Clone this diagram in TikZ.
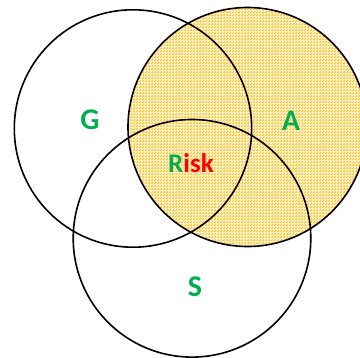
\documentclass[tikz,border=0pt]{standalone}
\usepackage{fontspec}
\setmainfont{Carlito}
\usetikzlibrary{patterns}
\definecolor{lblgreen}{HTML}{00B050}
\definecolor{lblred}{HTML}{FF0000}
\definecolor{hatchbase}{HTML}{FFC52E}
\tikzset{
  ring/.style={draw=black, line width=1.6pt},
  lbl/.style={font=\fontsize{30}{30}\selectfont\bfseries, text=lblgreen, inner sep=0pt}
}
\begin{document}
\begin{tikzpicture}[x=1pt,y=-1pt]
\useasboundingbox (0,0) rectangle (360,358);
\begin{scope}
\clip (0,0) rectangle (360,358);
% A circle filled
\fill[hatchbase] (247.5,127) circle (119.5);
\fill[pattern=crosshatch dots, pattern color=white] (247.5,127) circle (119.5);
\fill[pattern=grid, pattern color=white!70!hatchbase] (247.5,127) circle (119.5);
\draw[ring] (133,128.5) circle (118.7);
\draw[ring] (247.5,127) circle (119.5);
\draw[ring] (192,238.3) circle (118.8);
\end{scope}
\node[lbl] (g) at (90,120) {G};
\node[lbl] (a) at (291,121) {A};
\node[lbl] (s) at (195,287) {S};
\node[lbl, font=\fontsize{27}{27}\selectfont\bfseries] (r) at (191,163) {R\textcolor{lblred}{isk}};
\end{tikzpicture}
\end{document}
